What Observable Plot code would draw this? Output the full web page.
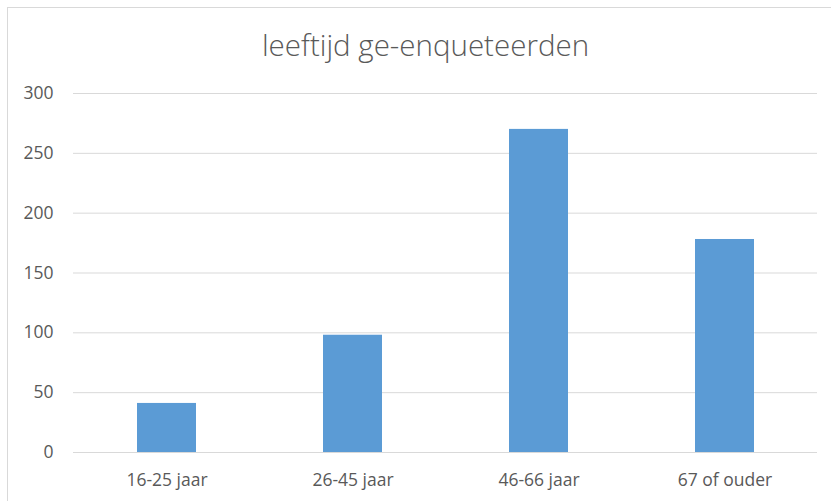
<!DOCTYPE html>
<html>
<head>
<meta charset="utf-8">
<script src="https://cdn.jsdelivr.net/npm/d3@7"></script>
<script src="https://cdn.jsdelivr.net/npm/@observablehq/plot@0.6"></script>
<style>
  html, body { margin: 0; padding: 0; background: #fff; overflow: hidden; }
  #frame { position: absolute; left: 7px; top: 7px; width: 840px; height: 520px; border: 1px solid #d9d9d9; box-sizing: border-box; }
  #wrap { position: absolute; left: 0; top: 0; width: 831px; }
  #title { height: 80px; box-sizing: border-box; padding-top: 27px; padding-left: 20px; text-align: center; font-family: "Open Sans", sans-serif; font-weight: 300; font-size: 29.5px; color: #595959; line-height: 36px; }
</style>
</head>
<body>
<div id="frame"></div>
<div id="wrap">
  <div id="title">leeftijd ge-enqueteerden</div>
  <div id="chart"></div>
</div>
<script>
const categories = ["16-25 jaar", "26-45 jaar", "46-66 jaar", "67 of ouder"];
const values = [41, 98, 270, 178];
const yTicks = [0, 50, 100, 150, 200, 250, 300];

const data = categories.map((c, i) => ({category: c, value: values[i]}));

const chart = Plot.plot({
  width: 831,
  height: 421,
  marginTop: 13,
  marginBottom: 49,
  marginLeft: 73,
  marginRight: 14,
  style: {fontFamily: "'Open Sans', sans-serif", fontSize: "17px", color: "#595959", background: "transparent", overflow: "visible"},
  x: {domain: categories, paddingInner: 0.685, paddingOuter: 0.3425, label: null},
  y: {domain: [0, 300], ticks: yTicks, label: null},
  marks: [
    Plot.gridY(yTicks, {stroke: "#d9d9d9", strokeOpacity: 1, strokeWidth: 1}),
    Plot.barY(data, {x: "category", y: "value", fill: "#5b9bd5"}),
    Plot.axisY(yTicks, {tickSize: 0, tickPadding: 20, fontSize: 17.5, fill: "#595959"}),
    Plot.axisX({tickSize: 0, tickPadding: 21, fontSize: 17.5, fill: "#595959"})
  ]
});
document.getElementById("chart").appendChild(chart);
</script>
</body>
</html>
